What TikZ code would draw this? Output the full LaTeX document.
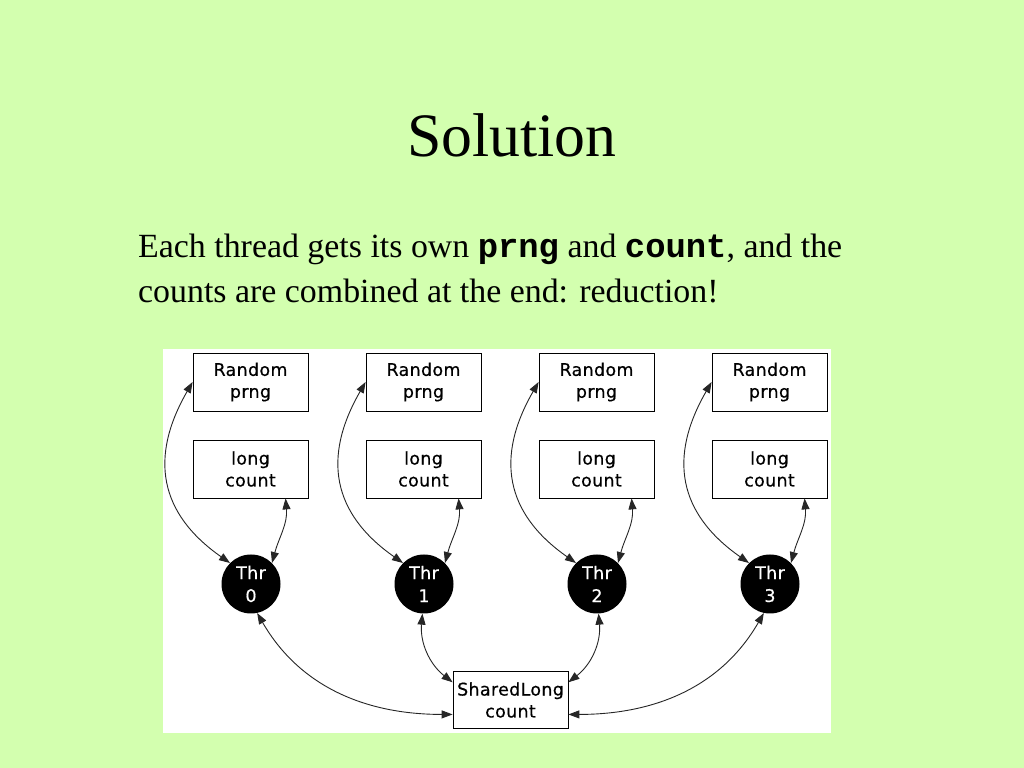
\documentclass[tikz,border=0pt]{standalone}
\usepackage{fontspec}
\setmainfont{Liberation Serif}
\newfontfamily\dvsans[FakeBold=0.6,LetterSpace=2]{DejaVu Sans}
\newfontfamily\lmono{Liberation Mono}
\usetikzlibrary{arrows.meta}
\definecolor{bggreen}{HTML}{D3FFAF}
\begin{document}
\begin{tikzpicture}[x=1bp,y=1bp,
  box/.style={draw=black, line width=0.8bp, fill=white, minimum width=115bp,
    minimum height=58bp, inner sep=0pt, align=center,
    font=\dvsans\fontsize{17.5}{22}\selectfont},
  thr/.style={circle, fill=black, text=white, minimum size=59bp, inner sep=0pt,
    align=center, font=\dvsans\fontsize{17.5}{23}\selectfont},
  link/.style={draw=black!85, line width=0.9bp,
    {Triangle[length=11bp,width=8bp]}-{Triangle[length=11bp,width=8bp]}},
  titletext/.style={font=\fontsize{62}{70}\selectfont, inner sep=0pt},
  bodytext/.style={font=\fontsize{34}{45}\selectfont, inner sep=0pt}]
\useasboundingbox (0,0) rectangle (1024,768);
\fill[bggreen] (0,0) rectangle (1024,768);
\fill[white] (163,35) rectangle (831,419);
\node[titletext, anchor=base] (title) at (512,611) {Solution};
\node[bodytext, anchor=base west] (line1) at (138,510)
  {Each thread gets its own {\lmono\bfseries prng} and {\lmono\bfseries count}, and the};
\node[bodytext, anchor=base west] (line2) at (138,465)
  {counts are combined at the end: reduction!};
\foreach \i/\x in {0/250.5,1/423.5,2/596.5,3/769.5} {
  \node[box] (r\i) at (\x,386) {Random\\prng};
  \node[box] (l\i) at (\x,299) {long\\count};
  \node[thr] (t\i) at (\x+0.5,184) {Thr\\\i};
}
\node[box, minimum height=57bp] (s) at (510.5,68) {SharedLong\\count};
\foreach \i in {0,...,3} {
  \draw[link] (t\i.135) to[out=145,in=240,looseness=1.2] (r\i.west);
  \draw[link] (t\i.45) to[out=75,in=-85] (l\i.-40);
}
\draw[link] (t0.-78) to[out=-60,in=180] (s.194);
\draw[link] (t1.-93) to[out=-95,in=142] (s.163);
\draw[link] (t2.-87) to[out=-85,in=38] (s.17);
\draw[link] (t3.-102) to[out=-120,in=0] (s.-14);
\end{tikzpicture}
\end{document}
